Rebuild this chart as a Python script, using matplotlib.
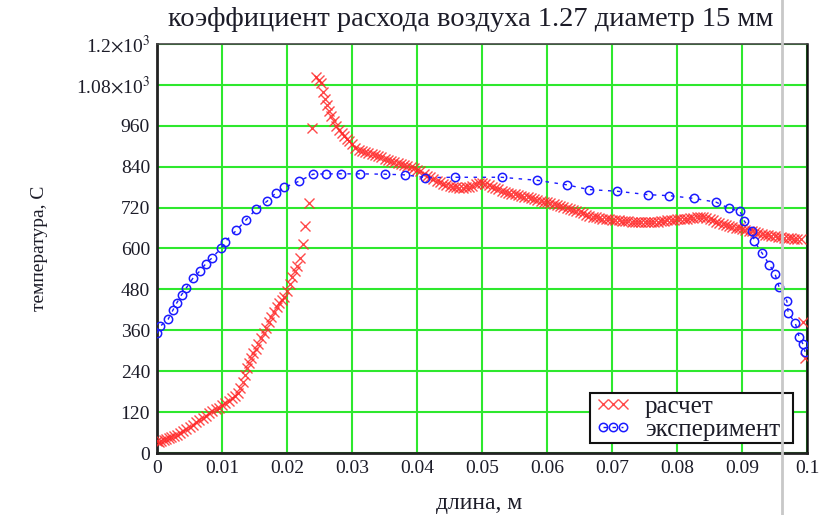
import matplotlib
matplotlib.use("Agg")
import matplotlib.pyplot as plt
from matplotlib.lines import Line2D
from matplotlib.patches import Rectangle

plt.rcParams['font.family'] = ['Liberation Serif', 'DejaVu Serif']
plt.rcParams['mathtext.fontset'] = 'stix'

title = "коэффициент расхода воздуха 1.27 диаметр 15 мм"
xlabel = "длина, м"
ylabel = "температура, С"
legend_labels = ["расчет", "эксперимент"]

x_ticks = [0, 0.01, 0.02, 0.03, 0.04, 0.05, 0.06, 0.07, 0.08, 0.09, 0.1]
x_tick_labels = ["0", "0.01", "0.02", "0.03", "0.04", "0.05", "0.06", "0.07", "0.08", "0.09", "0.1"]
y_ticks = [0, 120, 240, 360, 480, 600, 720, 840, 960, 1080, 1200]
y_tick_labels = ["0", "120", "240", "360", "480", "600", "720", "840", "960",
                 r"1.08$\times$10$^{3}$", r"1.2$\times$10$^{3}$"]

# calculated ("расчет")
calc_x = [0.0000, 0.0003, 0.0006, 0.0010, 0.0014, 0.0018, 0.0022, 0.0026, 0.0030, 0.0035,
          0.0040, 0.0045, 0.0050, 0.0055, 0.0060, 0.0065, 0.0070, 0.0075, 0.0080, 0.0085,
          0.0090, 0.0095, 0.0100, 0.0105, 0.0110, 0.0115, 0.0120, 0.0124, 0.0128, 0.0132,
          0.0135, 0.0138, 0.0141, 0.0144, 0.0148, 0.0152, 0.0156, 0.0160, 0.0164, 0.0168,
          0.0172, 0.0176, 0.0180, 0.0184, 0.0188, 0.0192, 0.0196, 0.0200, 0.0204, 0.0208,
          0.0212, 0.0216, 0.0220, 0.0224, 0.0228, 0.0234, 0.0239, 0.0245, 0.0249, 0.0252,
          0.0255, 0.0258, 0.0261, 0.0264, 0.0268, 0.0272, 0.0276, 0.0280, 0.0284, 0.0288,
          0.0292, 0.0296, 0.0300, 0.0305, 0.0310, 0.0315, 0.0320, 0.0325, 0.0330, 0.0335,
          0.0340, 0.0345, 0.0350, 0.0355, 0.0360, 0.0365, 0.0370, 0.0375, 0.0380, 0.0385,
          0.0390, 0.0395, 0.0400, 0.0405, 0.0410, 0.0415, 0.0420, 0.0425, 0.0430, 0.0435,
          0.0440, 0.0445, 0.0450, 0.0455, 0.0460, 0.0465, 0.0470, 0.0475, 0.0480, 0.0485,
          0.0490, 0.0495, 0.0500, 0.0505, 0.0510, 0.0515, 0.0520, 0.0525, 0.0530, 0.0535,
          0.0540, 0.0545, 0.0550, 0.0555, 0.0560, 0.0565, 0.0570, 0.0575, 0.0580, 0.0585,
          0.0590, 0.0595, 0.0600, 0.0605, 0.0610, 0.0615, 0.0620, 0.0625, 0.0630, 0.0635,
          0.0640, 0.0645, 0.0650, 0.0655, 0.0660, 0.0665, 0.0670, 0.0675, 0.0680, 0.0685,
          0.0690, 0.0695, 0.0700, 0.0705, 0.0710, 0.0715, 0.0720, 0.0725, 0.0730, 0.0735,
          0.0740, 0.0745, 0.0750, 0.0755, 0.0760, 0.0765, 0.0770, 0.0775, 0.0780, 0.0785,
          0.0790, 0.0795, 0.0800, 0.0805, 0.0810, 0.0815, 0.0820, 0.0825, 0.0830, 0.0835,
          0.0840, 0.0845, 0.0850, 0.0855, 0.0860, 0.0865, 0.0870, 0.0875, 0.0880, 0.0885,
          0.0890, 0.0895, 0.0900, 0.0905, 0.0910, 0.0915, 0.0920, 0.0925, 0.0930, 0.0935,
          0.0940, 0.0945, 0.0950, 0.0955, 0.0960, 0.0965, 0.0970, 0.0975, 0.0980, 0.0985,
          0.0990, 0.0994, 0.0997]
calc_t = [35, 33, 36, 38, 40, 43, 47, 50, 54, 59,
          64, 70, 76, 83, 90, 97, 104, 110, 117, 123,
          128, 133, 140, 147, 153, 160, 168, 177, 190, 208,
          228, 250, 265, 278, 292, 305, 320, 337, 352, 368,
          385, 400, 415, 428, 440, 450, 458, 475, 495, 515,
          535, 550, 572, 614, 667, 733, 955, 1103, 1095, 1085,
          1060, 1040, 1020, 1004, 990, 975, 960, 948, 940, 931,
          922, 915, 906, 896, 890, 886, 883, 880, 877, 875,
          872, 868, 864, 861, 858, 855, 852, 849, 846, 842,
          838, 835, 831, 826, 820, 814, 809, 804, 799, 794,
          789, 786, 783, 781, 779, 778, 777, 779, 781, 784,
          788, 791, 793, 790, 786, 781, 777, 774, 770, 767,
          764, 761, 759, 756, 754, 752, 750, 748, 745, 742,
          740, 737, 735, 733, 730, 728, 725, 722, 719, 716,
          713, 710, 706, 703, 699, 696, 693, 691, 689, 688,
          687, 686, 685, 684, 683, 682, 681, 680, 679, 678,
          677, 677, 677, 677, 677, 678, 679, 681, 682, 683,
          684, 685, 686, 687, 688, 688, 689, 690, 691, 692,
          692, 690, 687, 683, 679, 675, 671, 668, 665, 663,
          661, 659, 656, 654, 652, 650, 647, 645, 643, 641,
          639, 637, 636, 634, 633, 632, 631, 630, 629, 628,
          628, 385, 280]

# experiment ("эксперимент")
exp_x = [0.0000, 0.0005, 0.0017, 0.0025, 0.0030, 0.0038, 0.0045, 0.0055, 0.0066, 0.0075,
         0.0085, 0.0099, 0.0105, 0.0122, 0.0137, 0.0153, 0.0169, 0.0183, 0.0196, 0.0218,
         0.0240, 0.0260, 0.0283, 0.0313, 0.0351, 0.0382, 0.0413, 0.0458, 0.0530, 0.0585,
         0.0630, 0.0664, 0.0708, 0.0755, 0.0788, 0.0826, 0.0860, 0.0880, 0.0897, 0.0903,
         0.0915, 0.0919, 0.0931, 0.0942, 0.0951, 0.0957, 0.0969, 0.0971, 0.0982, 0.0988,
         0.0994, 0.0997]
exp_t = [351, 372, 392, 421, 439, 465, 484, 512, 534, 555,
         573, 602, 620, 653, 684, 716, 738, 763, 779, 797,
         818, 819, 819, 819, 818, 816, 808, 809, 809, 800,
         787, 773, 768, 758, 755, 747, 736, 718, 709, 682,
         650, 621, 586, 553, 524, 487, 446, 411, 381, 340,
         319, 297]

W, H = 822, 515
fig = plt.figure(figsize=(W / 100, H / 100), dpi=100)
ax = fig.add_axes([157 / W, 1 - 453 / H, 650 / W, 409 / H])

red = '#ff2a2a'
blue = '#1a1aff'
green = '#2ee82e'
txt = '#1c1c28'

ax.plot(calc_x, calc_t, linestyle='none', marker='x', color=red, markersize=7.5,
        markeredgewidth=1.0, alpha=0.85, label=legend_labels[0], zorder=3)
ax.plot(exp_x, exp_t, linestyle=(0, (2.5, 4)), linewidth=1.0, marker='o',
        markerfacecolor='none', markeredgecolor=blue, color=blue, markersize=6,
        markeredgewidth=1.1, label=legend_labels[1], zorder=4)

ax.set_xlim(0, 0.1)
ax.set_ylim(0, 1200)
ax.set_xticks(x_ticks)
ax.set_xticklabels(x_tick_labels)
ax.set_yticks(y_ticks)
ax.set_yticklabels(y_tick_labels)
ax.tick_params(length=0, labelsize=14, colors=txt, pad=5)
ax.grid(True, color=green, linewidth=1.5, zorder=1)
ax.set_axisbelow(True)

for s in ['left', 'bottom']:
    ax.spines[s].set_linewidth(2.0)
    ax.spines[s].set_color('#222222')
ax.spines['top'].set_linewidth(1.2)
ax.spines['top'].set_color('#444444')
ax.spines['right'].set_linewidth(1.8)
ax.spines['right'].set_color('#111111')

fig.text(471 / W, 1 - 20 / H, title, ha='center', va='center', fontsize=20.5, color=txt)
fig.text(479 / W, 1 - 504 / H, xlabel, ha='center', va='center', fontsize=17, color=txt)
fig.text(40 / W, 1 - 248 / H, ylabel, ha='center', va='center', rotation=90,
         fontsize=14, color=txt)

# legend box
box_x0, box_y0, box_w, box_h = 0.6662, 0.0244, 0.3123, 0.1223
ax.add_patch(Rectangle((box_x0, box_y0), box_w, box_h, transform=ax.transAxes,
                       facecolor='white', edgecolor='#111111', linewidth=1.5, zorder=6))
leg = ax.legend(loc='center left', bbox_to_anchor=(box_x0, box_y0 + box_h / 2),
                borderaxespad=0, numpoints=3, fontsize=18, frameon=False,
                handlelength=1.4, handletextpad=0.6, borderpad=0.2, labelspacing=0.0)
leg.set_zorder(7)
for t in leg.get_texts():
    t.set_color(txt)

fig.add_artist(Line2D([782 / W, 782 / W], [0, 1], color='#c8c8c8', linewidth=2,
                      transform=fig.transFigure, zorder=10))

fig.savefig('out.png', dpi=100)
